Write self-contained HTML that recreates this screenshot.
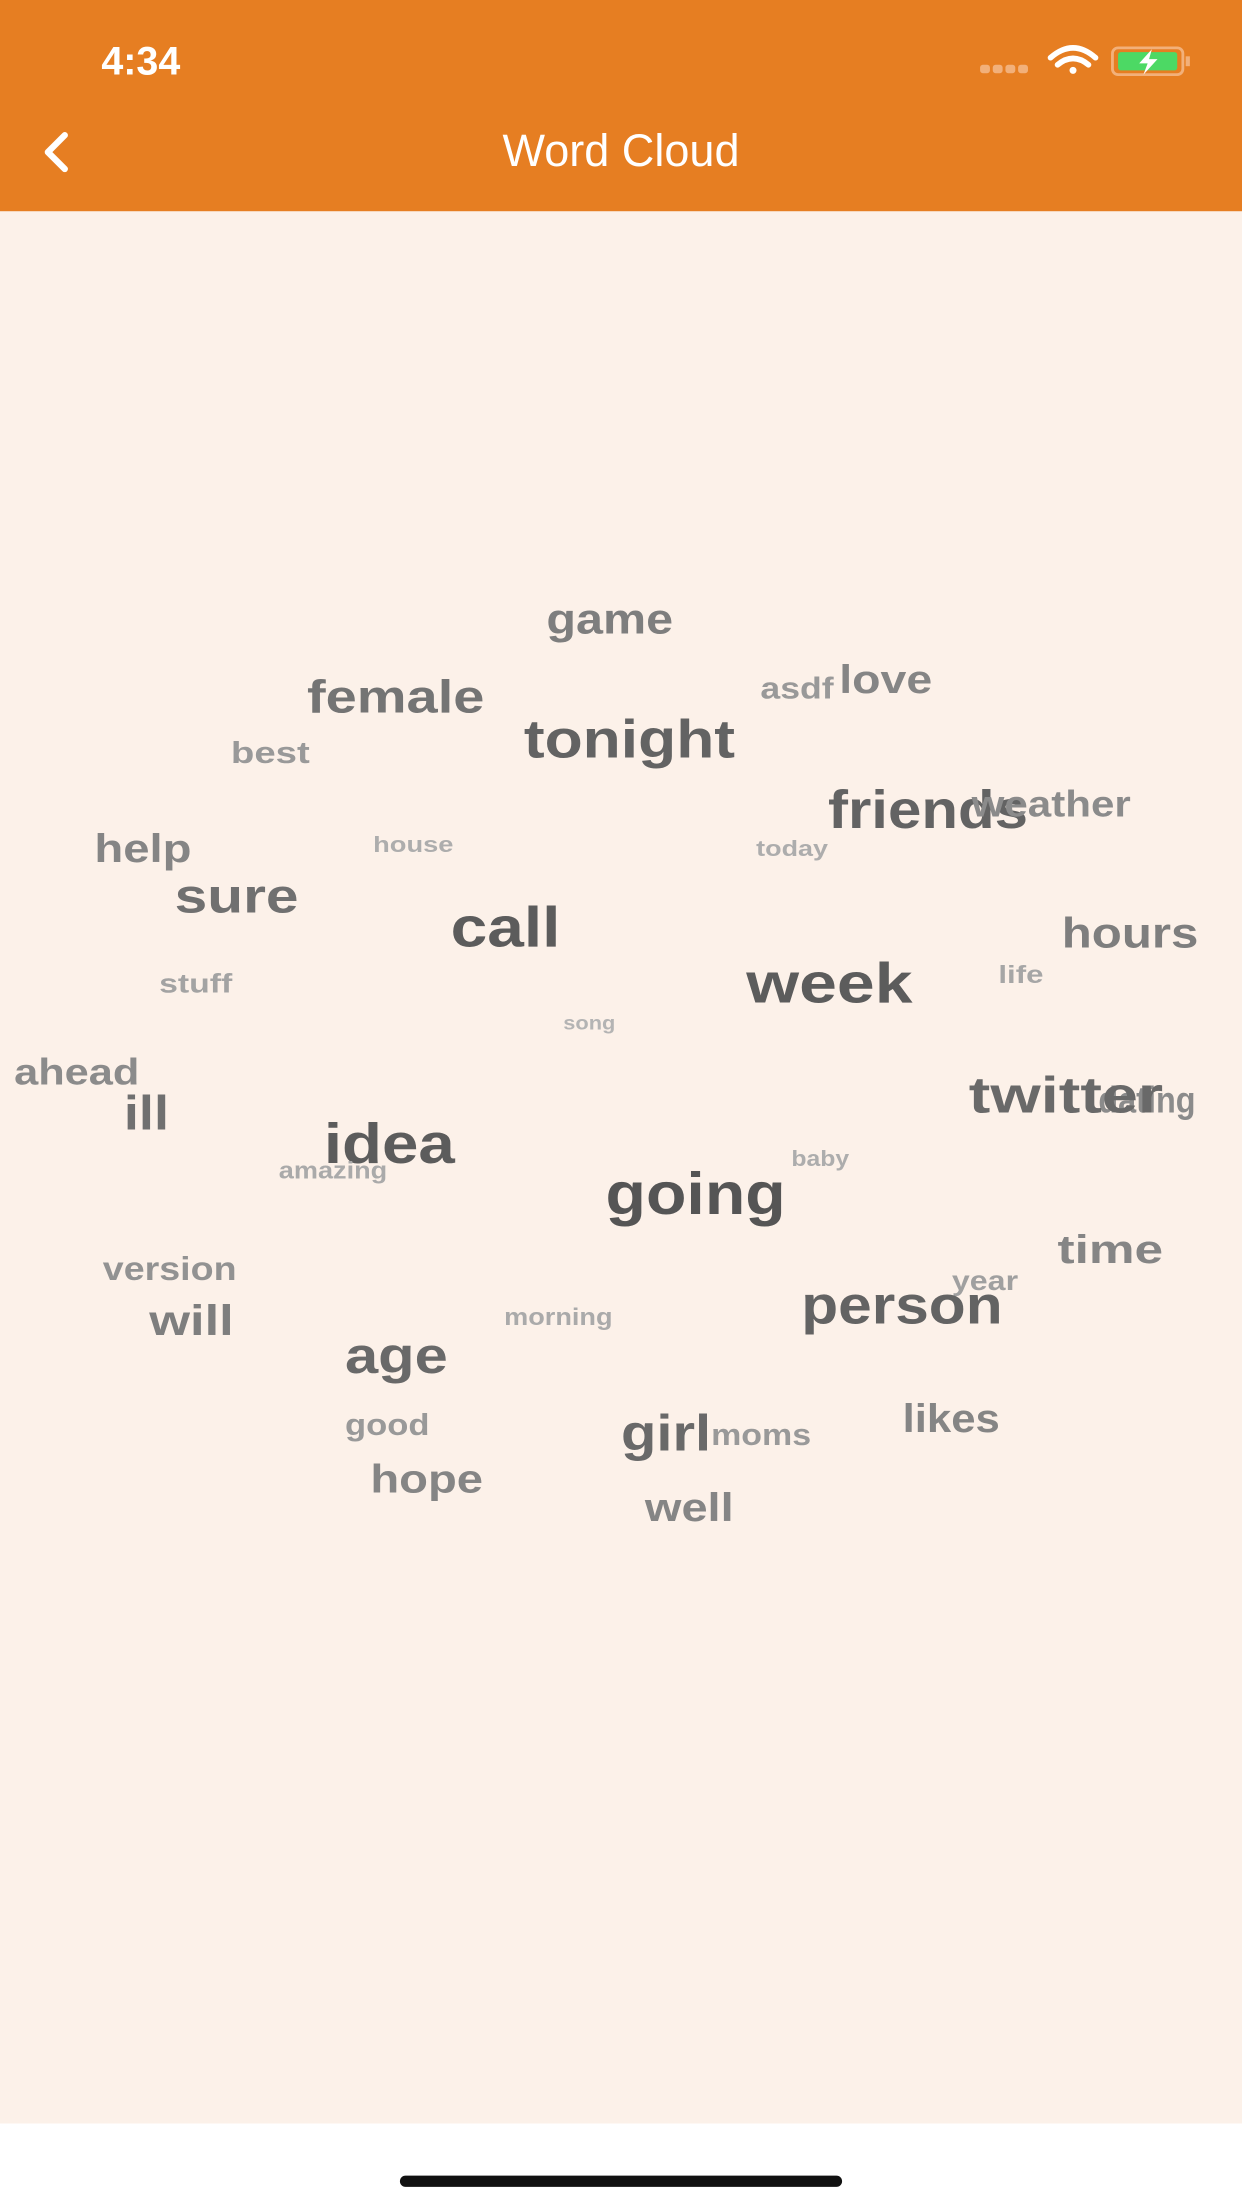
<!DOCTYPE html>
<html><head><meta charset="utf-8"><style>
html,body{margin:0;padding:0;width:1242px;height:2208px;overflow:hidden;background:#fcf1e9}
svg{display:block}
</style></head><body>
<svg id="root" width="1242" height="2208" viewBox="0 0 882 1568" xmlns="http://www.w3.org/2000/svg" font-family="Liberation Sans, sans-serif">
<rect x="0" y="0" width="882" height="1568" fill="#fcf1e9"/>
<g>
<rect x="0" y="0" width="882" height="150" fill="#e67e22"/>
<text x="72" y="53" font-size="28" font-weight="bold" fill="#fff">4:34</text>
<g fill="#f2b07a">
<rect x="696" y="46" width="7" height="6" rx="2"/><rect x="705" y="46" width="7" height="6" rx="2"/><rect x="714" y="46" width="7" height="6" rx="2"/><rect x="723" y="46" width="7" height="6" rx="2"/></g>
<g fill="none" stroke="#fff" stroke-width="4" stroke-linecap="round">
<path d="M746 41 Q762 27 778 41"/><path d="M751 46 Q762 37 773 46"/><circle cx="762" cy="50" r="2.5" fill="#fff" stroke="none"/></g>
<g>
<rect x="790" y="34" width="50" height="19" rx="4" fill="none" stroke="#f2b07a" stroke-width="2"/>
<rect x="794" y="37" width="42" height="13" rx="2" fill="#4cd964"/>
<rect x="842" y="40" width="3" height="7" fill="#f2b07a"/>
<path d="M818 35 L809 45 L815 45 L812 53 L822 42 L816 42 Z" fill="#fff"/></g>
<path d="M46 96 L34 108 L46 120" fill="none" stroke="#fff" stroke-width="4.5" stroke-linecap="round" stroke-linejoin="round"/>
<text x="441" y="118" text-anchor="middle" font-size="32" fill="#fff">Word Cloud</text>
</g>
<g id="cloud"></g>
<rect x="0" y="1508" width="882" height="60" fill="#fff"/>
<rect x="284" y="1545" width="314" height="8" rx="4" fill="#111"/>
</svg>
<script>
const words=["game","female","tonight","asdf","love","best","friends","weather","help","house","today","sure","call","hours","stuff","week","life","song","ahead","ill","dating","twitter","idea","amazing","baby","going","version","time","year","will","morning","person","age","good","girl","moms","likes","hope","well"];
const xs=[388,218,372,540,596,164,588,690,67,265,537,124,320,754,113,530,709,400,10,88,780,688,230,198,562,430,73,751,676,106,358,569,245,245,441,505,641,263,458];
const xe=[478,344,522,592,662,220,730,803,136,322,588,212,398,851,165,648,741,437,99,120,849,826,323,275,603,558,168,826,723,166,435,712,318,305,505,576,710,343,521];
const ys=[450,506,538,496,492,542,588,580,612,605,608,648,672,673,705,712,698,731,770,802,790,790,826,837,828,862,909,897,916,948,941,940,975,1019,1030,1026,1017,1060,1080];
const sizes=[30,33,38,22,28,22,38,26,28,16,16,34,40,30,19,40,18,14,26,34,26,36,40,17,16,42,24,28,20,30,17,38,36,22,36,22,28,28,28];
const g=document.getElementById('cloud');
function shade(s){const v=Math.round(180-(s-14)*(95/28));return `rgb(${v},${v},${v})`;}
words.forEach((w,i)=>{
 const t=document.createElementNS('http://www.w3.org/2000/svg','text');
 
 
 t.setAttribute('x',xs[i]);t.setAttribute('y',ys[i]);
 t.setAttribute('font-size',sizes[i]);t.setAttribute('font-weight','bold');
 t.setAttribute('fill',shade(sizes[i]));
 t.setAttribute('textLength',xe[i]-xs[i]);t.setAttribute('lengthAdjust','spacingAndGlyphs');
 t.textContent=w;g.appendChild(t);
});
</script>
</body></html>
